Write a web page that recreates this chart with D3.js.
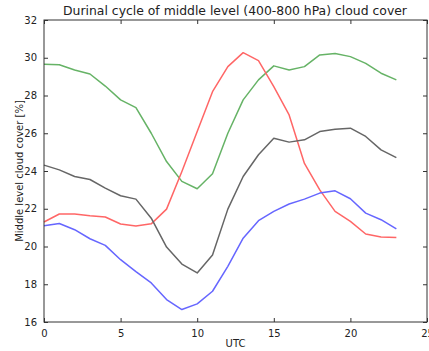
<!DOCTYPE html>
<html>
<head>
<meta charset="utf-8">
<script src="https://cdn.jsdelivr.net/npm/d3@7/dist/d3.min.js"></script>
<style>
  html, body { margin: 0; padding: 0; background: #fff; }
  svg { display: block; font-family: "DejaVu Sans", sans-serif; }
</style>
</head>
<body>
<svg id="chart" width="429" height="351"></svg>
<script>
// Hourly means (UTC 0..23) of middle level cloud cover, one series per region
const hours = d3.range(0, 24);
const greenSeries = [29.65, 29.63, 29.35, 29.14, 28.5, 27.77, 27.36, 26.0, 24.5, 23.45, 23.06, 23.85,
                     26.0, 27.77, 28.83, 29.57, 29.35, 29.53, 30.15, 30.22, 30.06, 29.7, 29.18, 28.83];
const redSeries   = [21.3, 21.72, 21.72, 21.63, 21.56, 21.19, 21.08, 21.2, 21.98, 23.97, 26.09, 28.2,
                     29.53, 30.27, 29.85, 28.47, 26.97, 24.4, 23.0, 21.86, 21.33, 20.66, 20.5, 20.48];
const blackSeries = [24.31, 24.06, 23.71, 23.55, 23.09, 22.69, 22.51, 21.5, 19.97, 19.07, 18.6, 19.55,
                     21.98, 23.71, 24.86, 25.74, 25.53, 25.65, 26.09, 26.21, 26.27, 25.83, 25.12, 24.71];
const blueSeries  = [21.1, 21.22, 20.89, 20.41, 20.06, 19.3, 18.67, 18.07, 17.19, 16.66, 16.96, 17.63,
                     18.95, 20.44, 21.37, 21.86, 22.25, 22.51, 22.83, 22.95, 22.53, 21.77, 21.42, 20.93];

const xTicks = [0, 5, 10, 15, 20, 25];
const yTicks = [16, 18, 20, 22, 24, 26, 28, 30, 32];

const series = [
  { values: greenSeries, color: "#66b366" },
  { values: redSeries,   color: "#ff6666" },
  { values: blackSeries, color: "#666666" },
  { values: blueSeries,  color: "#6666ff" }
];

const svg = d3.select("#chart");
const plotLeft = 44, plotRight = 427, plotTop = 20, plotBottom = 322;

const x = d3.scaleLinear().domain([0, 25]).range([plotLeft, plotRight]);
const y = d3.scaleLinear().domain([16, 32]).range([plotBottom, plotTop]);

// Lines
const line = d3.line().x((d, i) => x(hours[i])).y(d => y(d));
svg.append("g")
  .selectAll("path")
  .data(series)
  .join("path")
  .attr("fill", "none")
  .attr("stroke", d => d.color)
  .attr("stroke-width", 1.5)
  .attr("stroke-linejoin", "round")
  .attr("d", d => line(d.values));

// Axes with inward ticks on all four sides
const tickLen = 4;
const axisStyle = g => {
  g.select(".domain").remove();
  g.selectAll(".tick line").attr("stroke", "#333").attr("stroke-width", 1);
  g.selectAll(".tick text").attr("fill", "#222").attr("font-size", 10)
    .attr("font-family", "DejaVu Sans, sans-serif");
};

svg.append("g").attr("transform", `translate(0,${plotBottom})`)
  .call(d3.axisBottom(x).tickValues(xTicks).tickFormat(d3.format("d"))
    .tickSizeInner(-tickLen).tickPadding(8))
  .call(axisStyle);
svg.append("g").attr("transform", `translate(0,${plotTop})`)
  .call(d3.axisTop(x).tickValues(xTicks).tickFormat("").tickSizeInner(-tickLen))
  .call(axisStyle);
svg.append("g").attr("transform", `translate(${plotLeft},0)`)
  .call(d3.axisLeft(y).tickValues(yTicks).tickFormat(d3.format("d"))
    .tickSizeInner(-tickLen).tickPadding(7))
  .call(axisStyle);
svg.append("g").attr("transform", `translate(${plotRight},0)`)
  .call(d3.axisRight(y).tickValues(yTicks).tickFormat("").tickSizeInner(-tickLen))
  .call(axisStyle);

// Frame
svg.append("rect")
  .attr("x", plotLeft).attr("y", plotTop)
  .attr("width", plotRight - plotLeft).attr("height", plotBottom - plotTop)
  .attr("fill", "none").attr("stroke", "#333").attr("stroke-width", 1);

// Title and axis labels
svg.append("text")
  .attr("x", (plotLeft + plotRight) / 2 - 0.5).attr("y", 15)
  .attr("text-anchor", "middle").attr("font-size", 12.4).attr("fill", "#222")
  .text("Durinal cycle of middle level (400-800 hPa) cloud cover");

svg.append("text")
  .attr("x", (plotLeft + plotRight) / 2).attr("y", 347)
  .attr("text-anchor", "middle").attr("font-size", 10).attr("fill", "#222")
  .text("UTC");

svg.append("text")
  .attr("transform", `translate(23,${(plotTop + plotBottom) / 2}) rotate(-90)`)
  .attr("text-anchor", "middle").attr("font-size", 10).attr("fill", "#222")
  .text("Middle level cloud cover [%]");
</script>
</body>
</html>
